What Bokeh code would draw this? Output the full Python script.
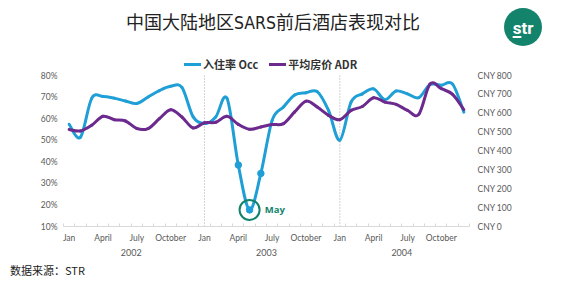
from bokeh.plotting import figure
from bokeh.layouts import column
from bokeh.models import (Range1d, LinearAxis, FixedTicker, Label, Div,
                          PrintfTickFormatter, Legend, LegendItem)
from bokeh.embed import file_html
from bokeh.resources import INLINE

# ---------------- data ----------------
month_names = ["Jan", "Feb", "Mar", "April", "May", "June",
               "July", "Aug", "Sep", "October", "Nov", "Dec"]
years = ["2002", "2003", "2004"]
months = list(range(36))  # Jan 2002 .. Dec 2004

occ = [57.4, 51.4, 69.4, 70.3, 69.5, 68.2, 67.0, 70.0, 73.0, 75.0, 74.5, 60.8,
       57.7, 60.8, 69.4, 38.5, 17.7, 34.6, 59.2, 65.4, 71.0, 72.0, 72.5, 63.8,
       50.0, 67.7, 71.5, 73.8, 68.8, 72.8, 71.5, 69.7, 75.8, 75.5, 76.0, 63.0]
adr = [514, 506, 536, 584, 566, 559, 519, 519, 571, 619, 580, 522,
       550, 552, 584, 541, 515, 527, 540, 545, 607, 664, 633, 589,
       566, 615, 636, 682, 659, 647, 615, 594, 755, 730, 700, 619]

marked = [15, 16, 17]          # Apr, May, Jun 2003
may_idx = 16
year_starts = [12, 24]

occ_ticks = [10, 20, 30, 40, 50, 60, 70, 80]
adr_ticks = [0, 100, 200, 300, 400, 500, 600, 700, 800]
title_parts = ["中国大陆地区", "SARS", "前后酒店表现对比"]
legend_labels = ["入住率 Occ", "平均房价 ADR"]
source_text = "数据来源：STR"

BLUE = "#1f9fd6"
PURPLE = "#6c2a8e"
GREEN = "#14836c"
GREY = "#595959"
DARK = "#222222"

W = 585
TOP_H = 50          # header strip
BOT_H = 33          # footer strip
MAIN_H = 295 - TOP_H - BOT_H
FL, FR = 63, 469    # frame left / right (page px)
Y80, Y10 = 75, 226  # page px of 80% and 10%

# ---------------- header ----------------
header_html = (
    '<div style="position:relative;width:585px;height:50px;margin:0;padding:0;">'
    '<div style="position:absolute;left:0;top:8px;width:546px;height:26px;'
    'line-height:26px;text-align:center;white-space:nowrap;color:%s;'
    'font-family:\'Noto Sans CJK SC\';font-size:18px;">%s'
    '<span style="font-family:\'Liberation Sans Narrow\',\'DejaVu Sans Condensed\';'
    'font-size:17.5px;">%s</span>%s</div>'
    '<div style="position:absolute;left:504px;top:8px;width:38px;height:38px;'
    'border-radius:50%%;background:%s;color:white;text-align:center;'
    'font-family:Roboto;font-weight:bold;font-size:17px;line-height:41px;">'
    '<span style="text-decoration:underline;text-decoration-thickness:1.5px;'
    'text-underline-offset:2px;">s</span>tr</div>'
    '</div>'
) % (DARK, title_parts[0], title_parts[1], title_parts[2], GREEN)
header = Div(text=header_html, width=W, height=TOP_H,
             styles={"margin": "0", "padding": "0"})

# ---------------- main chart ----------------
frame_h = Y10 - TOP_H                      # frame spans page y TOP_H..Y10
occ_top = 10 + frame_h * 70.0 / (Y10 - Y80)
adr_top = frame_h * 800.0 / (Y10 - Y80)

p = figure(width=W, height=MAIN_H, output_backend="svg", toolbar_location=None,
           x_range=Range1d(-0.5, 35.5), y_range=Range1d(10, occ_top),
           min_border_left=FL, min_border_right=W - FR,
           min_border_top=0, min_border_bottom=MAIN_H - frame_h)
p.outline_line_color = None
p.grid.visible = False
p.extra_y_ranges = {"adr": Range1d(0, adr_top)}


def style_axis(ax, standoff, size="8.5px"):
    ax.axis_line_color = None
    ax.major_tick_line_color = None
    ax.minor_tick_line_color = None
    ax.major_tick_out = 0
    ax.major_tick_in = 0
    ax.minor_tick_out = 0
    ax.minor_tick_in = 0
    ax.major_label_standoff = standoff
    ax.major_label_text_font = "Lato"
    ax.major_label_text_font_size = size
    ax.major_label_text_color = GREY


xa = p.xaxis[0]
style_axis(xa, 6)
xa.ticker = FixedTicker(ticks=list(range(0, 36, 3)),
                        minor_ticks=[i - 0.5 for i in range(37)])
xa.major_label_overrides = {i: month_names[i % 12] for i in range(0, 36, 3)}
xa.axis_line_color = "#d9d9d9"
xa.minor_tick_line_color = "#d9d9d9"
xa.minor_tick_in = 3

year_axis = LinearAxis(ticker=FixedTicker(ticks=[12 * k + 5.5 for k in range(3)],
                                          minor_ticks=[]),
                       major_label_overrides={12 * k + 5.5: yr
                                              for k, yr in enumerate(years)})
style_axis(year_axis, 3, "9px")
p.add_layout(year_axis, "below")

ya = p.yaxis[0]
style_axis(ya, 6)
ya.ticker = FixedTicker(ticks=occ_ticks)
ya.formatter = PrintfTickFormatter(format="%d%%")

ra = LinearAxis(y_range_name="adr", ticker=FixedTicker(ticks=adr_ticks),
                formatter=PrintfTickFormatter(format="CNY %d"))
style_axis(ra, 8)
p.add_layout(ra, "right")

# year separators (dotted, from axis to the 80% level)
p.segment(x0=year_starts, y0=[10] * 2, x1=year_starts, y1=[occ_ticks[-1]] * 2,
          line_color="#a6a6a6", line_width=1, line_dash="1 2")


def smooth(xs, ys, color, range_name="default"):
    n = len(xs)
    d = dict(x0=[], y0=[], x1=[], y1=[], cx0=[], cy0=[], cx1=[], cy1=[])
    for i in range(n - 1):
        xa_, ya_ = xs[i], ys[i]
        xb_, yb_ = xs[i + 1], ys[i + 1]
        xp, yp = (xs[i - 1], ys[i - 1]) if i > 0 else (xa_, ya_)
        xn, yn = (xs[i + 2], ys[i + 2]) if i + 2 < n else (xb_, yb_)
        d["x0"].append(xa_); d["y0"].append(ya_)
        d["x1"].append(xb_); d["y1"].append(yb_)
        d["cx0"].append(xa_ + (xb_ - xp) / 6.0)
        d["cy0"].append(ya_ + (yb_ - yp) / 6.0)
        d["cx1"].append(xb_ - (xn - xa_) / 6.0)
        d["cy1"].append(yb_ - (yn - ya_) / 6.0)
    return p.bezier(source=d, x0="x0", y0="y0", x1="x1", y1="y1",
                    cx0="cx0", cy0="cy0", cx1="cx1", cy1="cy1",
                    line_color=color, line_width=3, line_cap="round",
                    y_range_name=range_name)


r_occ = smooth(months, occ, BLUE)
r_adr = smooth(months, adr, PURPLE, "adr")

p.scatter([months[i] for i in marked], [occ[i] for i in marked],
          size=6.5, fill_color=BLUE, line_color=BLUE)
p.scatter([months[may_idx]], [occ[may_idx]], size=20, fill_color=None,
          line_color=GREEN, line_width=2)
p.add_layout(Label(x=months[may_idx] + 1.35, y=occ[may_idx], text="May",
                   text_font="Open Sans", text_font_size="9.5px",
                   text_font_style="bold", text_color=GREEN,
                   text_baseline="middle", text_align="left"))

leg = Legend(items=[LegendItem(label=legend_labels[0], renderers=[r_occ]),
                    LegendItem(label=legend_labels[1], renderers=[r_adr])],
             orientation="horizontal",
             location=(FL - 63 + 121, frame_h - (72 - TOP_H)),
             label_text_font="Noto Sans CJK SC", label_text_font_size="11px",
             label_text_font_style="bold", label_text_color="#333333",
             glyph_width=17, glyph_height=12, spacing=11, label_standoff=2,
             label_height=14, border_line_color=None, background_fill_alpha=0,
             padding=1, margin=0)
p.add_layout(leg)

# ---------------- footer ----------------
footer_html = (
    '<div style="position:relative;width:585px;height:33px;margin:0;padding:0;">'
    '<div style="position:absolute;left:10px;top:0;height:16px;line-height:16px;'
    'white-space:nowrap;color:%s;font-family:\'Noto Sans CJK SC\';'
    'font-size:11px;">%s</div></div>'
) % (DARK, source_text)
footer = Div(text=footer_html, width=W, height=BOT_H,
             styles={"margin": "0", "padding": "0"})

layout = column(header, p, footer, spacing=0)
open("out.html", "w").write(file_html(layout, INLINE))
